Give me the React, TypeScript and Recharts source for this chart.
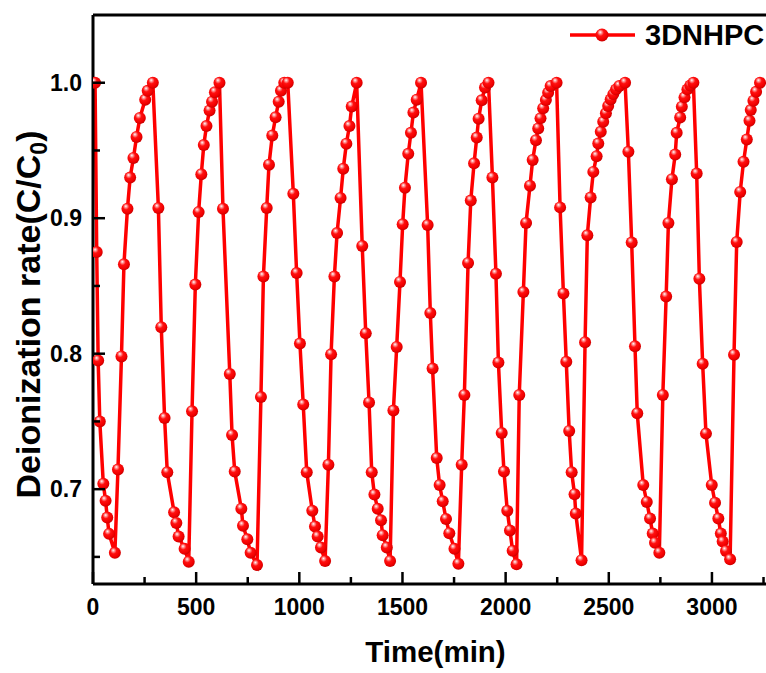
import React from 'react';
import { LineChart, Line, XAxis, YAxis, ReferenceLine, Legend } from 'recharts';

// time (min) of every sample
const timeMin = [
  10, 18, 25, 33, 50, 61, 69, 78, 106,
  121, 138, 150, 167, 180, 196, 211, 227, 253, 265, 290,
  317, 331, 347, 360, 393, 404, 415, 444, 464,
  480, 496, 512, 525, 537, 550, 565, 577, 591, 613,
  630, 663, 674, 687, 719, 727, 748, 764, 795,
  814, 826, 842, 853, 869, 885, 900, 911, 927, 944,
  971, 987, 1003, 1019, 1036, 1063, 1076, 1089, 1105, 1125,
  1141, 1154, 1170, 1183, 1200, 1213, 1228, 1243, 1254, 1278,
  1305, 1322, 1338, 1351, 1364, 1380, 1396, 1404, 1424, 1440,
  1456, 1472, 1488, 1501, 1512, 1528, 1541, 1553, 1569, 1590,
  1622, 1635, 1646, 1666, 1680, 1695, 1711, 1727, 1752, 1771,
  1787, 1800, 1818, 1831, 1847, 1860, 1869, 1884, 1900, 1917,
  1936, 1953, 1965, 1981, 1992, 2008, 2021, 2034, 2053,
  2066, 2086, 2099, 2118, 2131, 2147, 2158, 2169, 2182, 2195, 2206, 2218, 2247,
  2264, 2280, 2294, 2308, 2320, 2334, 2340, 2368,
  2385, 2396, 2412, 2425, 2441, 2449, 2461, 2473, 2486, 2497, 2509, 2522, 2535, 2551, 2579,
  2595, 2611, 2627, 2638, 2667, 2684, 2700, 2713, 2724, 2745,
  2762, 2778, 2789, 2806, 2822, 2829, 2846, 2854, 2867, 2881, 2895, 2910,
  2926, 2939, 2955, 2971, 2999, 3015, 3031, 3043, 3052, 3068, 3088,
  3107, 3120, 3137, 3153, 3169, 3182, 3188, 3201, 3214, 3233,
];

// deionization rate C/C0 for the same samples
const rateCC0 = [
  1.0, 0.875, 0.795, 0.75, 0.704, 0.6915, 0.679, 0.667, 0.653,
  0.7145, 0.798, 0.866, 0.907, 0.93, 0.9445, 0.96, 0.974, 0.9875, 0.994, 1.0,
  0.9075, 0.8195, 0.7525, 0.7125, 0.683, 0.675, 0.665, 0.656, 0.6465,
  0.7575, 0.851, 0.9045, 0.9325, 0.954, 0.968, 0.9795, 0.986, 0.993, 1.0,
  0.907, 0.785, 0.74, 0.713, 0.6855, 0.673, 0.663, 0.653, 0.644,
  0.768, 0.857, 0.9075, 0.9395, 0.961, 0.9745, 0.986, 0.994, 1.0, 1.0,
  0.918, 0.8595, 0.8075, 0.7625, 0.7125, 0.684, 0.6725, 0.665, 0.657, 0.647,
  0.718, 0.7995, 0.857, 0.889, 0.915, 0.9365, 0.955, 0.968, 0.9825, 1.0,
  0.8795, 0.815, 0.764, 0.7125, 0.696, 0.6855, 0.677, 0.666, 0.657, 0.647,
  0.758, 0.805, 0.853, 0.8955, 0.9225, 0.9475, 0.963, 0.978, 0.9875, 1.0,
  0.895, 0.83, 0.789, 0.723, 0.703, 0.691, 0.678, 0.6675, 0.656, 0.645,
  0.718, 0.7695, 0.867, 0.913, 0.9405, 0.9595, 0.9735, 0.987, 0.9965, 1.0,
  0.93, 0.859, 0.7935, 0.7415, 0.713, 0.684, 0.6695, 0.6545, 0.6445,
  0.7695, 0.8455, 0.8965, 0.924, 0.943, 0.9576, 0.9663, 0.9737, 0.9811, 0.9872, 0.9926, 0.9976, 1.0,
  0.908, 0.8445, 0.794, 0.743, 0.7125, 0.6963, 0.682, 0.6475,
  0.8085, 0.8874, 0.9153, 0.9342, 0.9458, 0.9552, 0.9638, 0.9712, 0.9774, 0.9828, 0.9877, 0.9916, 0.9951, 0.9976, 1.0,
  0.949, 0.882, 0.8055, 0.756, 0.703, 0.6906, 0.6783, 0.6672, 0.6605, 0.6531,
  0.7695, 0.8422, 0.8965, 0.9288, 0.947, 0.963, 0.9744, 0.9823, 0.9892, 0.9951, 0.998, 1.0,
  0.933, 0.8553, 0.7925, 0.741, 0.703, 0.69, 0.6783, 0.6672, 0.6613, 0.6544, 0.6482,
  0.7993, 0.8824, 0.9194, 0.9416, 0.9581, 0.9719, 0.9798, 0.9867, 0.9933, 1.0,
];

const seriesName = '3DNHPC';
const xTicks = [0, 250, 500, 750, 1000, 1250, 1500, 1750, 2000, 2250, 2500, 2750, 3000, 3250];
const xLabels = [0, 500, 1000, 1500, 2000, 2500, 3000];
const yTicks = [0.65, 0.7, 0.75, 0.8, 0.85, 0.9, 0.95, 1.0];
const yLabels = [0.7, 0.8, 0.9, 1.0];

const data = timeMin.map((t, i) => ({ time: t, rate: rateCC0[i] }));

const FONT = '"Liberation Sans", Arial, sans-serif';
const RED = '#ff0000';

const XTick = (props: any) => {
  const { x, y, payload } = props;
  const major = xLabels.includes(payload.value);
  return (
    <g>
      <line x1={x} x2={x} y1={y} y2={y - (major ? 12 : 7)} stroke="#000" strokeWidth={2.5} />
      {major && (
        <text x={x} y={y + 23} textAnchor="middle" dominantBaseline="central"
          fontFamily={FONT} fontWeight="bold" fontSize={23} fill="#000">
          {payload.value}
        </text>
      )}
    </g>
  );
};

const YTick = (props: any) => {
  const { x, y, payload } = props;
  const major = yLabels.some((v) => Math.abs(v - payload.value) < 1e-6);
  return (
    <g>
      <line x1={x} x2={x + (major ? 12 : 7)} y1={y} y2={y} stroke="#000" strokeWidth={2.5} />
      {major && (
        <text x={x - 11} y={y} textAnchor="end" dominantBaseline="central"
          fontFamily={FONT} fontWeight="bold" fontSize={23} fill="#000">
          {payload.value.toFixed(1)}
        </text>
      )}
    </g>
  );
};

const XTitle = (props: any) => {
  const { viewBox } = props;
  return (
    <text x={viewBox.x + viewBox.width / 2 + 6} y={viewBox.y + 78} textAnchor="middle"
      fontFamily={FONT} fontWeight="bold" fontSize={29.5} fill="#000">
      Time(min)
    </text>
  );
};

const YTitle = (props: any) => {
  const { viewBox } = props;
  const cx = viewBox.x + 40;
  const cy = viewBox.y + viewBox.height / 2 + 15;
  return (
    <text x={cx} y={cy} transform={`rotate(-90 ${cx} ${cy})`} textAnchor="middle"
      fontFamily={FONT} fontWeight="bold" fontSize={34} fill="#000">
      Deionization rate(C/C
      <tspan fontSize={23} dy={7}>0</tspan>
      <tspan dy={-7}>)</tspan>
    </text>
  );
};

const LegendBox = () => (
  <svg width={206} height={42} style={{ display: 'block' }}>
    <line x1={10} x2={75} y1={21} y2={21} stroke={RED} strokeWidth={3.5} />
    <circle cx={42} cy={21} r={6.5} fill="url(#ball)" />
    <text x={85} y={21} dominantBaseline="central" fontFamily={FONT}
      fontWeight="bold" fontSize={29} fill="#000">
      {seriesName}
    </text>
  </svg>
);

export default function App() {
  return (
    <div style={{ position: 'absolute', left: 0, top: 0, width: 766, height: 673, background: '#fff' }}>
      <svg width={0} height={0} style={{ position: 'absolute' }}>
        <defs>
          <radialGradient id="ball" cx="0.42" cy="0.38" r="0.62" fx="0.36" fy="0.28">
            <stop offset="0%" stopColor="#ffffff" />
            <stop offset="16%" stopColor="#ffa0a0" />
            <stop offset="42%" stopColor="#ff1010" />
            <stop offset="80%" stopColor="#f00000" />
            <stop offset="100%" stopColor="#c80000" />
          </radialGradient>
        </defs>
      </svg>
      <LineChart width={766} height={673} data={data} margin={{ top: 15, right: 0, bottom: 0, left: 0 }}>
        <XAxis
          dataKey="time"
          type="number"
          domain={[0, 3262]}
          allowDataOverflow
          ticks={xTicks}
          interval={0}
          tick={XTick}
          tickLine={false}
          tickSize={0}
          tickMargin={0}
          height={89}
          axisLine={{ stroke: '#000', strokeWidth: 3 }}
          label={{ content: XTitle }}
        />
        <YAxis
          type="number"
          domain={[0.63, 1.05]}
          allowDataOverflow
          ticks={yTicks}
          interval={0}
          tick={YTick}
          tickLine={false}
          tickSize={0}
          tickMargin={0}
          width={93}
          axisLine={{ stroke: '#000', strokeWidth: 3 }}
          label={{ content: YTitle }}
        />
        <ReferenceLine y={1.05} stroke="#000" strokeWidth={3} />
        <Legend
          layout="horizontal"
          verticalAlign="middle"
          align="center"
          content={LegendBox}
          wrapperStyle={{ position: 'absolute', top: 14, left: 560, width: 206, height: 42 }}
        />
        <Line
          name={seriesName}
          dataKey="rate"
          type="linear"
          stroke={RED}
          strokeWidth={3.5}
          dot={{ r: 6, fill: 'url(#ball)', stroke: 'none' }}
          activeDot={false}
          isAnimationActive={false}
        />
      </LineChart>
    </div>
  );
}
